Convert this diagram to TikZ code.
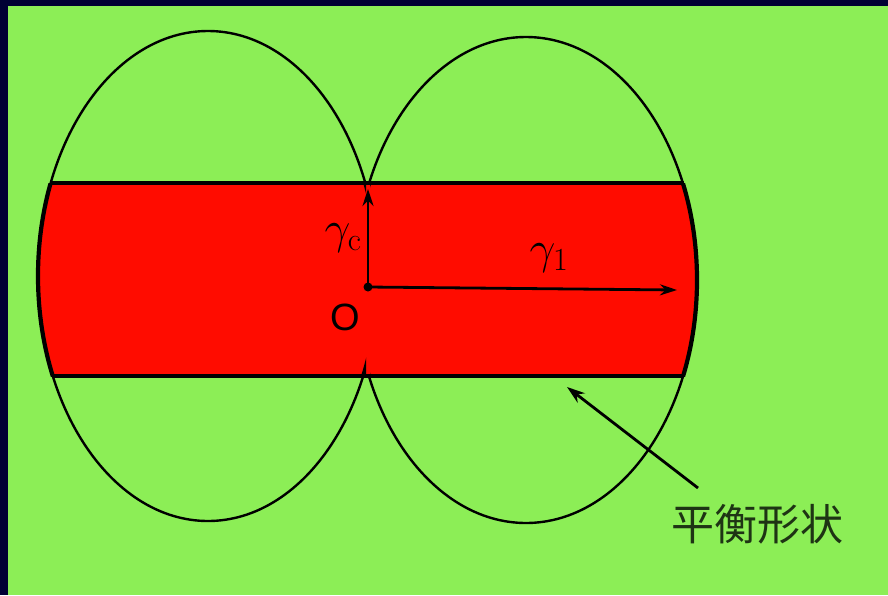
\RequirePackage{fix-cm}
\documentclass[tikz,border=0pt]{standalone}
\usepackage{fontspec}
\usetikzlibrary{arrows.meta}
\newfontfamily\cjk{Noto Sans CJK SC}
\newfontfamily\arialfont{Liberation Sans}
\definecolor{bgnavy}{RGB}{0,0,52}
\definecolor{bggreen}{RGB}{140,238,86}
\definecolor{bandred}{RGB}{255,12,0}
\definecolor{txtdark}{RGB}{30,52,20}
\tikzset{
  thinline/.style={line width=2.4pt, black},
  thickline/.style={line width=4.2pt, black},
  vecarrow/.style={line width=2.8pt, black, -{Stealth[length=17pt,width=11pt]}},
  ptrarrow/.style={line width=2.8pt, black, -{Stealth[length=18pt,width=12pt]}},
  lbl/.style={inner sep=0pt, text=black}
}
\begin{document}
\begin{tikzpicture}[x=1pt,y=-1pt]
\useasboundingbox (0,0) rectangle (888,595);
% background
\fill[bgnavy] (0,0) rectangle (888,595);
\fill[bggreen] (8,6) rectangle (888,595);
% ellipse centres
\coordinate (cl) at (208,276);
\coordinate (cr) at (526,280);
% thin ellipses
\draw[thinline] (cl) ellipse [x radius=170pt, y radius=245pt];
\draw[thinline] (cr) ellipse [x radius=171pt, y radius=243pt];
% red band
\begin{scope}
  \clip (0,183) rectangle (888,376);
  \fill[bandred] (cl) ellipse [x radius=170pt, y radius=245pt];
  \fill[bandred] (cr) ellipse [x radius=171pt, y radius=243pt];
  \fill[bandred] (300,183) rectangle (440,376);
\end{scope}
\begin{scope}
  \clip (0,183) rectangle (366,376);
  \draw[thickline] (cl) ellipse [x radius=170pt, y radius=245pt];
\end{scope}
\begin{scope}
  \clip (370,183) rectangle (888,376);
  \draw[thickline] (cr) ellipse [x radius=171pt, y radius=243pt];
\end{scope}
\coordinate (tl) at (50,183);
\coordinate (tr) at (684,183);
\coordinate (bl) at (52,376);
\coordinate (br) at (684,376);
\draw[thickline] (tl) -- (tr);
\draw[thickline] (bl) -- (br);
% vectors
\coordinate (O) at (368,287);
\coordinate (rc) at (368,189);
\coordinate (r1) at (677,290);
\draw[vecarrow] (O) -- (rc);
\draw[vecarrow] (O) -- (r1);
\fill[black] (O) circle (4.5pt);
\node[lbl] (gc) at (343,238) {\fontsize{46}{46}\selectfont $\gamma_{\mathrm{c}}$};
\node[lbl] (g1) at (549,258) {\fontsize{46}{46}\selectfont $\gamma_{\mathrm{1}}$};
\node[lbl] (Olbl) at (345,317) {\arialfont\fontsize{38}{38}\selectfont O};
% pointer
\node[lbl, text=txtdark] (shape) at (757,524) {\cjk\fontsize{43}{43}\selectfont 平衡形状};
\coordinate (ptail) at (698,488);
\coordinate (ptip) at (567,387);
\draw[ptrarrow] (ptail) -- (ptip);
\end{tikzpicture}
\end{document}
